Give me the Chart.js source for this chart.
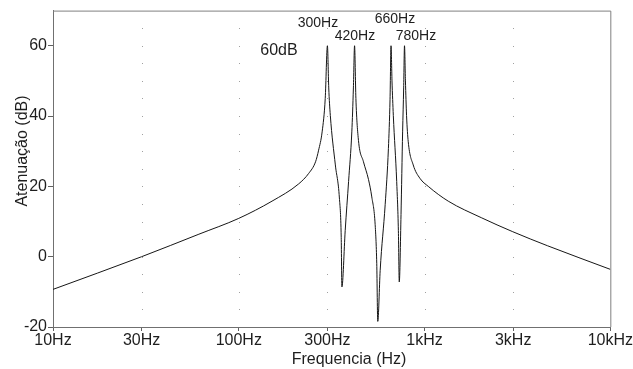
<!DOCTYPE html>
<html>
<head>
<meta charset="utf-8">
<script src="https://cdn.jsdelivr.net/npm/chart.js@4/dist/chart.umd.min.js"></script>
<style>
  html, body { margin: 0; padding: 0; background: #fff; }
  #wrap { width: 633px; height: 369px; }
</style>
</head>
<body>
<div id="wrap"><canvas id="chart" width="633" height="369"></canvas></div>
<script>
// Response (frequency in Hz, attenuation in dB)
const freqs = [10, 30, 61, 100, 151, 210, 238, 259, 269, 281,
  292, 300, 305, 311, 331, 348, 356, 359, 374, 390,
  406, 414, 420, 427, 441, 469, 499, 520, 542, 553,
  560, 577, 614, 639, 652, 660, 668, 679, 708, 723,
  731, 747, 762, 772, 780, 789, 800, 817, 869, 944,
  1047, 1341, 2020, 2985, 4596, 10000];
const atten = [-9.3, 0.0, 6.4, 10.9, 15.8, 20.7, 23.7, 27.0, 30.3, 35.5,
  45, 60, 48, 40.2, 26.1, 16.7, 5.5, -8.6, 7.4, 21.4,
  35.5, 48, 60, 45, 33, 27, 22, 17, 9.2, -2,
  -18.4, -3.9, 14.9, 30.8, 44.8, 60, 50, 40.2, 21.4, 7.4,
  -7.2, 12, 35.5, 48, 60, 50, 40.2, 32.7, 26.1, 22.3,
  20, 15.8, 11.1, 7.1, 3.1, -3.6];

const xTicks = [10, 30, 100, 300, 1000, 3000, 10000];
const xTickLabels = ['10Hz', '30Hz', '100Hz', '300Hz', '1kHz', '3kHz', '10kHz'];
const yTicks = [-20, 0, 20, 40, 60];
const dotFreqs = [30, 100, 300, 1000, 3000];

const peakLabels = ['300Hz', '420Hz', '660Hz', '780Hz'];
const FONT = '"Liberation Sans", Arial, sans-serif';
const TEXT = '#1e1e1e';

// dotted grid, frame on top/right, titles and peak notes
const decor = {
  id: 'decor',
  beforeDatasetsDraw(chart) {
    const { ctx, chartArea: a, scales: { x, y } } = chart;
    ctx.save();
    ctx.fillStyle = '#a0a0a0';
    dotFreqs.forEach(f => {
      const px = Math.round(x.getPixelForValue(f));
      for (let v = -15; v <= 65; v += 5) {
        ctx.fillRect(px, Math.round(y.getPixelForValue(v)), 1, 1);
      }
    });
    ctx.strokeStyle = '#808080';
    ctx.lineWidth = 1;
    ctx.beginPath();
    ctx.moveTo(a.left, a.top + 0.5);
    ctx.lineTo(a.right + 0.5, a.top + 0.5);
    ctx.lineTo(a.right + 0.5, a.bottom);
    ctx.stroke();
    ctx.restore();
  },
  afterDraw(chart) {
    const { ctx } = chart;
    ctx.save();
    ctx.fillStyle = TEXT;
    ctx.textAlign = 'center';
    ctx.textBaseline = 'alphabetic';

    ctx.font = '14px ' + FONT;
    ctx.fillText(peakLabels[0], 318, 27);
    ctx.fillText(peakLabels[1], 355, 40);
    ctx.fillText(peakLabels[2], 395, 23);
    ctx.fillText(peakLabels[3], 416, 40);

    ctx.font = '16px ' + FONT;
    ctx.fillText('60dB', 279, 55);
    ctx.fillText('Frequencia (Hz)', 349, 364);

    ctx.translate(27, 151);
    ctx.rotate(-Math.PI / 2);
    ctx.fillText('Atenuação (dB)', 0, 0);
    ctx.restore();
  }
};

new Chart(document.getElementById('chart'), {
  type: 'line',
  data: {
    datasets: [{
      data: freqs.map((f, i) => ({ x: f, y: atten[i] })),
      borderColor: '#161616',
      borderWidth: 1,
      pointRadius: 0,
      cubicInterpolationMode: 'monotone',
      fill: false
    }]
  },
  options: {
    responsive: false,
    animation: false,
    layout: { padding: { top: 7, right: 20, left: 0, bottom: 0 } },
    plugins: { legend: { display: false }, tooltip: { enabled: false } },
    scales: {
      x: {
        type: 'logarithmic',
        min: 10,
        max: 10000,
        afterBuildTicks: s => { s.ticks = xTicks.map(v => ({ value: v })); },
        afterFit: s => { s.height = 42; },
        grid: { drawOnChartArea: false, drawTicks: true, tickLength: 4, color: '#606060' },
        border: { color: '#707070', width: 1 },
        ticks: {
          autoSkip: false,
          maxRotation: 0,
          padding: 0,
          color: TEXT,
          font: { family: FONT, size: 16 },
          callback: (v, i) => xTickLabels[i]
        }
      },
      y: {
        min: -20,
        max: 70,
        afterBuildTicks: s => { s.ticks = yTicks.map(v => ({ value: v })); },
        afterFit: s => { s.width = 53; },
        grid: { drawOnChartArea: false, drawTicks: true, tickLength: 5, color: '#606060' },
        border: { color: '#707070', width: 1 },
        ticks: {
          padding: 1,
          color: TEXT,
          font: { family: FONT, size: 16 }
        }
      }
    }
  },
  plugins: [decor]
});
</script>
</body>
</html>
